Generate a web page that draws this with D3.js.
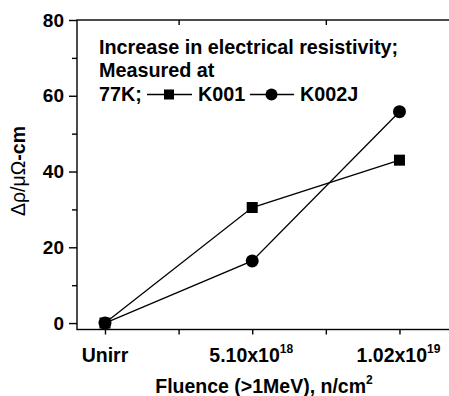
<!DOCTYPE html>
<html>
<head>
<meta charset="utf-8">
<script src="https://cdn.jsdelivr.net/npm/d3@7"></script>
<style>
  body { margin: 0; background: #fff; }
  svg { display: block; font-family: "Liberation Sans", Arial, sans-serif; font-weight: bold; }
</style>
</head>
<body>
<svg id="chart" width="449" height="396"></svg>
<script>
// data
const categories = ['Unirr', '5.10x10|18', '1.02x10|19'];
const k001 = [0, 30.5, 43];
const k002j = [0, 16.4, 55.8];
const yTicks = [0, 20, 40, 60, 80];
const yMinor = [10, 30, 50, 70];

const svg = d3.select('#chart');
const plotLeft = 77, plotRight = 451, plotTop = 20, plotBottom = 329.5;

const x = d3.scaleLinear().domain([-0.19, 2.35]).range([plotLeft, plotRight]);
const y = d3.scaleLinear().domain([-1.7, 80]).range([plotBottom, plotTop]);

// frame
svg.append('rect')
    .attr('x', plotLeft).attr('y', plotTop)
    .attr('width', plotRight - plotLeft).attr('height', plotBottom - plotTop)
    .style('fill', 'none').style('stroke', '#000').style('stroke-width', 1.4);

// y axis
const yAxis = svg.append('g').attr('transform', `translate(${plotLeft},0)`)
    .call(d3.axisLeft(y).tickValues(yTicks).tickSize(8).tickPadding(5));
yAxis.select('.domain').remove();
yAxis.selectAll('text').style('font-size', '19px').style('font-family', 'inherit').attr('fill', '#000');
yAxis.selectAll('line').style('stroke-width', 1.4);
svg.append('g').attr('transform', `translate(${plotLeft},0)`)
    .call(d3.axisLeft(y).tickValues(yMinor).tickSize(5).tickFormat(''))
    .call(g => g.select('.domain').remove())
    .selectAll('line').style('stroke-width', 1.4);

// x axis
const xAxis = svg.append('g').attr('transform', `translate(0,${plotBottom})`)
    .call(d3.axisBottom(x).tickValues([0, 0.5, 1, 1.5, 2]).tickSize(5).tickFormat(''));
xAxis.select('.domain').remove();
xAxis.selectAll('line').style('stroke-width', 1.4);

categories.forEach((c, i) => {
    const parts = c.split('|');
    const t = svg.append('text')
        .attr('x', x(i) + (parts[1] ? -1 : 0)).attr('y', 362)
        .attr('text-anchor', 'middle')
        .style('font-size', '19.5px');
    t.append('tspan').text(parts[0]);
    if (parts[1]) {
        t.append('tspan').attr('dy', -9).style('font-size', '12px').text(parts[1]);
    }
});

// top ticks (inward)
svg.append('g').attr('transform', `translate(0,${plotTop})`)
    .call(d3.axisBottom(x).tickValues([0.5, 1.5]).tickSize(5).tickFormat(''))
    .call(g => g.select('.domain').remove())
    .selectAll('line').style('stroke-width', 1.4);

// axis titles
const xt = svg.append('text')
    .attr('x', 264).attr('y', 393)
    .attr('text-anchor', 'middle')
    .style('font-size', '19.5px');
xt.append('tspan').text('Fluence (>1MeV), n/cm');
xt.append('tspan').attr('dy', -9).style('font-size', '12px').text('2');

const yt = svg.append('text')
    .attr('transform', 'translate(25,171) rotate(-90)')
    .attr('text-anchor', 'middle')
    .style('font-size', '19.5px');
yt.append('tspan').style('font-weight', 'normal').text('\u0394\u03c1/\u03bc\u03a9');
yt.append('tspan').text('-cm');

// series
const line = d3.line().x((d, i) => x(i)).y(d => y(d));
[k001, k002j].forEach(s => {
    svg.append('path').datum(s).attr('d', line)
        .style('fill', 'none').style('stroke', '#000').style('stroke-width', 1.3);
});

svg.selectAll('rect.k001').data(k001).enter().append('rect')
    .attr('class', 'k001')
    .attr('x', (d, i) => x(i) - 5.5).attr('y', d => y(d) - 5.5)
    .attr('width', 11).attr('height', 11).style('fill', '#000');

svg.selectAll('circle.k002j').data(k002j).enter().append('circle')
    .attr('class', 'k002j')
    .attr('cx', (d, i) => x(i)).attr('cy', d => y(d))
    .attr('r', 6.5).style('fill', '#000');

// annotation and inline legend
const note = svg.append('g').style('font-size', '19.8px');
note.append('text').attr('x', 99).attr('y', 53.5).text('Increase in electrical resistivity;');
note.append('text').attr('x', 99).attr('y', 77).text('Measured at');
note.append('text').attr('x', 99).attr('y', 100.5).text('77K;');
note.append('text').attr('x', 198).attr('y', 100.5).text('K001');
note.append('text').attr('x', 300).attr('y', 100.5).text('K002J');

const ly = 94.5;
note.append('line').attr('x1', 147).attr('x2', 192).attr('y1', ly).attr('y2', ly)
    .style('stroke', '#000').style('stroke-width', 1.4);
note.append('rect').attr('x', 164).attr('y', ly - 5).attr('width', 10).attr('height', 10).style('fill', '#000');
note.append('line').attr('x1', 250).attr('x2', 294).attr('y1', ly).attr('y2', ly)
    .style('stroke', '#000').style('stroke-width', 1.4);
note.append('circle').attr('cx', 271.5).attr('cy', ly).attr('r', 6).style('fill', '#000');
</script>
</body>
</html>
